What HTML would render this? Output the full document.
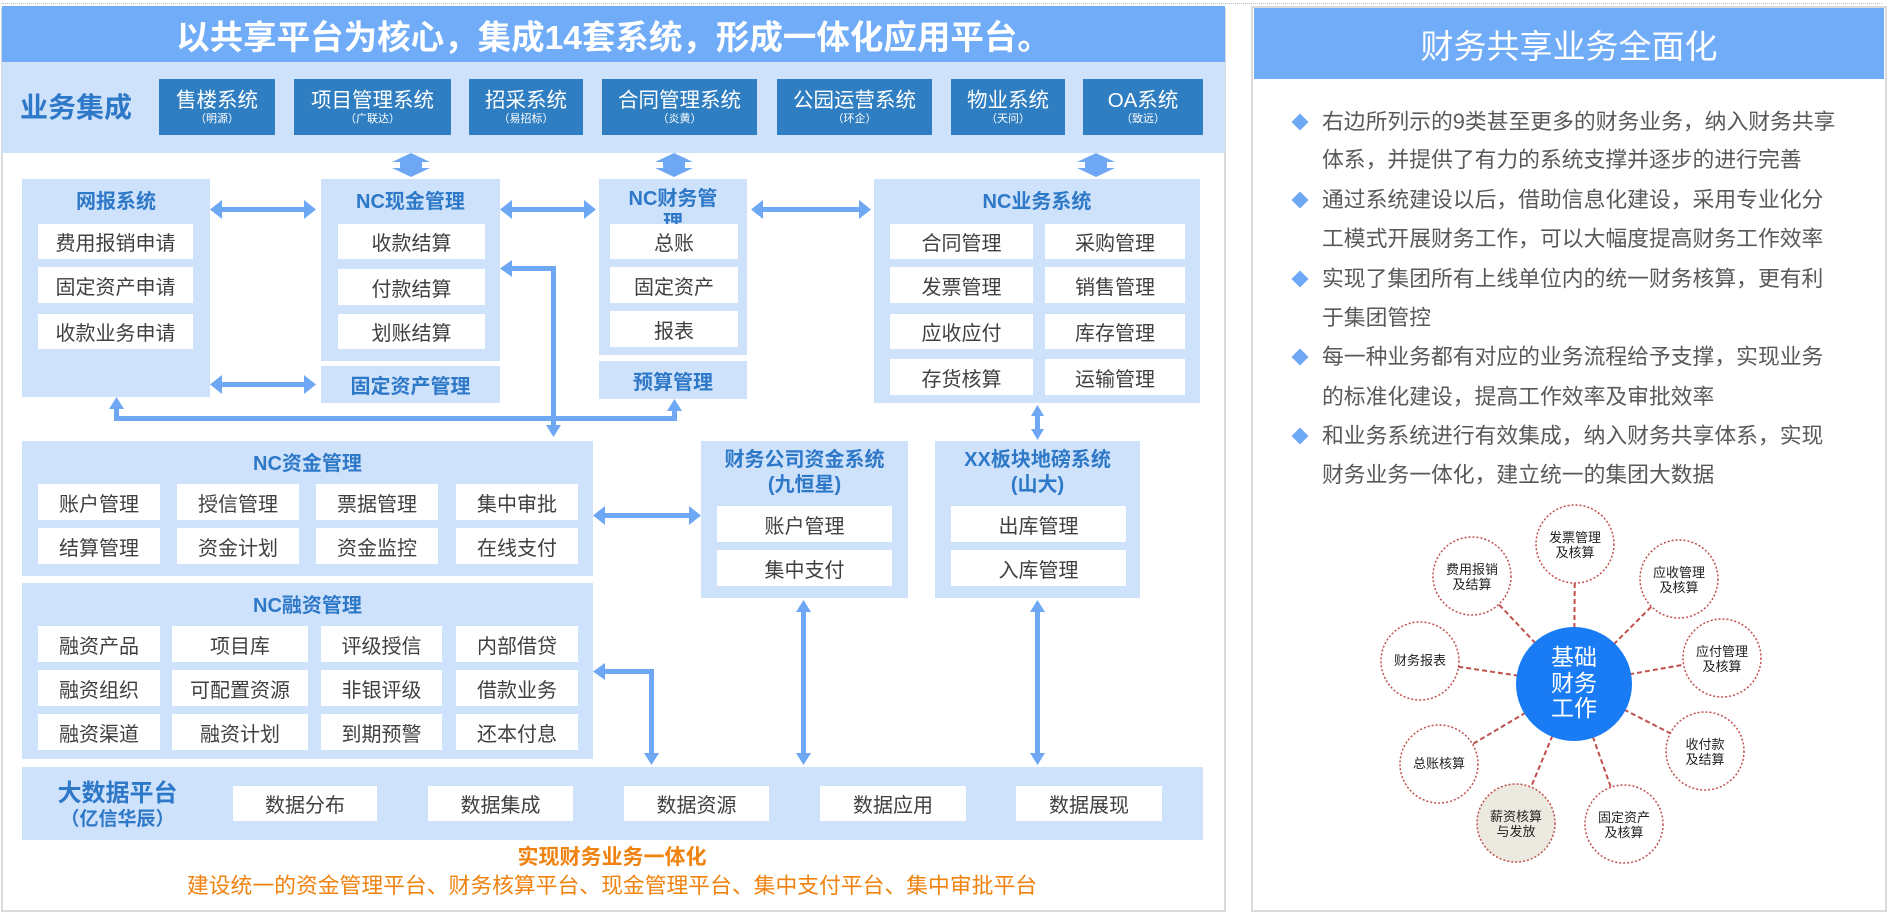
<!DOCTYPE html>
<html><head><meta charset="utf-8"><style>
*{margin:0;padding:0;box-sizing:border-box}
body{width:1888px;height:914px;background:#fff;position:relative;overflow:hidden;font-family:"Liberation Sans","Noto Sans CJK SC",sans-serif}
.a{position:absolute}
.c{position:absolute;display:flex;align-items:center;justify-content:center;text-align:center;white-space:nowrap}
.lb{background:#cfe2fb}
.it{background:#fff;color:#404040;font-size:20px}
.tt{color:#2e78c8;font-weight:bold;font-size:20px}
.sys{background:#2f7ec2;color:#fff;flex-direction:column;font-size:20.5px;line-height:23px}
.sys small{font-size:11px;line-height:14px}
.bl{position:absolute;left:1322px;color:#595959;font-size:21.8px;line-height:26px;white-space:nowrap}
.dm{position:absolute;left:1294px;width:12px;height:12px;background:#6ea8f5;transform:rotate(45deg)}
</style></head><body>
<div class="a" style="left:2px;top:3px;width:1880px;border-top:1px dotted #bbb"></div>
<div class="a" style="left:1px;top:8px;width:1225px;height:904px;border:2px solid #dadada"></div>
<div class="c" style="left:2px;top:6px;width:1223px;height:56px;background:#70acf8;color:#fff;font-size:33.5px;font-weight:bold">以共享平台为核心，集成14套系统，形成一体化应用平台。</div>
<div class="a lb" style="left:2px;top:62px;width:1223px;height:91px"></div>
<div class="c" style="left:14px;top:84px;width:124px;height:44px;color:#2e78c8;font-weight:bold;font-size:28px">业务集成</div>
<div class="c sys" style="left:159px;top:79px;width:116px;height:56px">售楼系统<small>（明源）</small></div>
<div class="c sys" style="left:294px;top:79px;width:157px;height:56px">项目管理系统<small>（广联达）</small></div>
<div class="c sys" style="left:469px;top:79px;width:114px;height:56px">招采系统<small>（易招标）</small></div>
<div class="c sys" style="left:602px;top:79px;width:155px;height:56px">合同管理系统<small>（炎黄）</small></div>
<div class="c sys" style="left:777px;top:79px;width:155px;height:56px">公园运营系统<small>（环企）</small></div>
<div class="c sys" style="left:951px;top:79px;width:114px;height:56px">物业系统<small>（天问）</small></div>
<div class="c sys" style="left:1083px;top:79px;width:120px;height:56px">OA系统<small>（致远）</small></div>

<div class="a lb" style="left:22px;top:179px;width:188px;height:218px"></div>
<div class="c tt" style="left:22px;top:186px;width:188px;height:26px">网报系统</div>
<div class="c it" style="left:38px;top:224px;width:155px;height:35px">费用报销申请</div>
<div class="c it" style="left:38px;top:267px;width:155px;height:36px">固定资产申请</div>
<div class="c it" style="left:38px;top:314px;width:155px;height:35px">收款业务申请</div>

<div class="a lb" style="left:321px;top:179px;width:179px;height:182px"></div>
<div class="c tt" style="left:321px;top:186px;width:179px;height:26px">NC现金管理</div>
<div class="c it" style="left:338px;top:224px;width:147px;height:35px">收款结算</div>
<div class="c it" style="left:338px;top:269px;width:147px;height:36px">付款结算</div>
<div class="c it" style="left:338px;top:314px;width:147px;height:35px">划账结算</div>
<div class="c tt lb" style="left:321px;top:366px;width:179px;height:37px;font-size:20px">固定资产管理</div>

<div class="a lb" style="left:599px;top:179px;width:148px;height:176px;overflow:hidden"><div class="tt" style="position:absolute;left:0;top:8px;width:148px;text-align:center;line-height:24px">NC财务管<br>理</div></div>
<div class="c it" style="left:610px;top:224px;width:128px;height:35px">总账</div>
<div class="c it" style="left:610px;top:267px;width:128px;height:36px">固定资产</div>
<div class="c it" style="left:610px;top:311px;width:128px;height:36px">报表</div>
<div class="c tt lb" style="left:599px;top:361px;width:148px;height:38px;font-size:20px">预算管理</div>

<div class="a lb" style="left:874px;top:179px;width:326px;height:224px"></div>
<div class="c tt" style="left:874px;top:186px;width:326px;height:26px">NC业务系统</div>
<div class="c it" style="left:890px;top:224px;width:143px;height:35px">合同管理</div>
<div class="c it" style="left:1045px;top:224px;width:140px;height:35px">采购管理</div>
<div class="c it" style="left:890px;top:267px;width:143px;height:36px">发票管理</div>
<div class="c it" style="left:1045px;top:267px;width:140px;height:36px">销售管理</div>
<div class="c it" style="left:890px;top:314px;width:143px;height:35px">应收应付</div>
<div class="c it" style="left:1045px;top:314px;width:140px;height:35px">库存管理</div>
<div class="c it" style="left:890px;top:359px;width:143px;height:36px">存货核算</div>
<div class="c it" style="left:1045px;top:359px;width:140px;height:36px">运输管理</div>

<div class="a lb" style="left:22px;top:441px;width:571px;height:135px"></div>
<div class="c tt" style="left:22px;top:448px;width:571px;height:26px">NC资金管理</div>
<div class="c it" style="left:38px;top:484px;width:122px;height:36px">账户管理</div>
<div class="c it" style="left:177px;top:484px;width:122px;height:36px">授信管理</div>
<div class="c it" style="left:316px;top:484px;width:122px;height:36px">票据管理</div>
<div class="c it" style="left:456px;top:484px;width:122px;height:36px">集中审批</div>
<div class="c it" style="left:38px;top:528px;width:122px;height:36px">结算管理</div>
<div class="c it" style="left:177px;top:528px;width:122px;height:36px">资金计划</div>
<div class="c it" style="left:316px;top:528px;width:122px;height:36px">资金监控</div>
<div class="c it" style="left:456px;top:528px;width:122px;height:36px">在线支付</div>

<div class="a lb" style="left:22px;top:583px;width:571px;height:176px"></div>
<div class="c tt" style="left:22px;top:590px;width:571px;height:26px">NC融资管理</div>
<div class="c it" style="left:38px;top:626px;width:122px;height:36px">融资产品</div>
<div class="c it" style="left:172px;top:626px;width:136px;height:36px">项目库</div>
<div class="c it" style="left:321px;top:626px;width:121px;height:36px">评级授信</div>
<div class="c it" style="left:456px;top:626px;width:122px;height:36px">内部借贷</div>
<div class="c it" style="left:38px;top:670px;width:122px;height:36px">融资组织</div>
<div class="c it" style="left:172px;top:670px;width:136px;height:36px">可配置资源</div>
<div class="c it" style="left:321px;top:670px;width:121px;height:36px">非银评级</div>
<div class="c it" style="left:456px;top:670px;width:122px;height:36px">借款业务</div>
<div class="c it" style="left:38px;top:714px;width:122px;height:36px">融资渠道</div>
<div class="c it" style="left:172px;top:714px;width:136px;height:36px">融资计划</div>
<div class="c it" style="left:321px;top:714px;width:121px;height:36px">到期预警</div>
<div class="c it" style="left:456px;top:714px;width:122px;height:36px">还本付息</div>

<div class="a lb" style="left:701px;top:441px;width:207px;height:157px"></div>
<div class="c tt" style="left:701px;top:447px;width:207px;height:52px;line-height:25px;font-size:20px">财务公司资金系统<br>(九恒星)</div>
<div class="c it" style="left:717px;top:506px;width:175px;height:36px">账户管理</div>
<div class="c it" style="left:717px;top:550px;width:175px;height:36px">集中支付</div>

<div class="a lb" style="left:935px;top:441px;width:205px;height:157px"></div>
<div class="c tt" style="left:935px;top:447px;width:205px;height:52px;line-height:25px;font-size:20px">XX板块地磅系统<br>(山大)</div>
<div class="c it" style="left:951px;top:506px;width:175px;height:36px">出库管理</div>
<div class="c it" style="left:951px;top:550px;width:175px;height:36px">入库管理</div>

<div class="a lb" style="left:22px;top:767px;width:1181px;height:73px"></div>
<div class="c" style="left:40px;top:776px;width:155px;height:28px;color:#2e78c8;font-weight:bold;font-size:24px">大数据平台</div>
<div class="c" style="left:40px;top:805px;width:155px;height:24px;color:#2e78c8;font-weight:bold;font-size:19px">（亿信华辰）</div>
<div class="c it" style="left:233px;top:786px;width:144px;height:35px">数据分布</div>
<div class="c it" style="left:428px;top:786px;width:145px;height:35px">数据集成</div>
<div class="c it" style="left:624px;top:786px;width:145px;height:35px">数据资源</div>
<div class="c it" style="left:820px;top:786px;width:146px;height:35px">数据应用</div>
<div class="c it" style="left:1016px;top:786px;width:146px;height:35px">数据展现</div>
<div class="c" style="left:300px;top:843px;width:624px;height:26px;color:#f0820f;font-weight:bold;font-size:21px">实现财务业务一体化</div>
<div class="c" style="left:150px;top:870px;width:924px;height:28px;color:#f0820f;font-size:21.8px">建设统一的资金管理平台、财务核算平台、现金管理平台、集中支付平台、集中审批平台</div>

<svg class="a" style="left:0;top:0" width="1888" height="914">
<g fill="#6ea8f5" stroke="none">
<polygon points="411,153 430,162 422,162 422,168 430,168 411,177 392,168 400,168 400,162 392,162"/>
<polygon points="674,153 693,162 685,162 685,168 693,168 674,177 655,168 663,168 663,162 655,162"/>
<polygon points="1096,153 1115,162 1107,162 1107,168 1115,168 1096,177 1077,168 1085,168 1085,162 1077,162"/>
<rect x="220" y="207" width="86" height="5"/><polygon points="210,209.5 222,200 222,219"/><polygon points="316,209.5 304,200 304,219"/>
<rect x="510" y="207" width="76" height="5"/><polygon points="500,209.5 512,200 512,219"/><polygon points="596,209.5 584,200 584,219"/>
<rect x="761" y="207" width="100" height="5"/><polygon points="751,209.5 763,200 763,219"/><polygon points="871,209.5 859,200 859,219"/>
<rect x="220" y="382" width="86" height="5"/><polygon points="210,384.5 222,375 222,394"/><polygon points="316,384.5 304,375 304,394"/>
<rect x="603" y="513" width="88" height="5"/><polygon points="593,515.5 605,506 605,525"/><polygon points="701,515.5 689,506 689,525"/>
<rect x="114" y="416" width="563" height="5"/>
<rect x="114" y="407" width="5" height="12"/><polygon points="116.5,397 109,409 124,409"/>
<rect x="672" y="409" width="5" height="10"/><polygon points="674.5,399 667,411 682,411"/>
<rect x="551" y="266" width="5" height="161"/><rect x="510" y="266" width="46" height="5"/>
<polygon points="500,268.5 512,260 512,277"/><polygon points="553.5,437 546,425 561,425"/>
<rect x="603" y="669" width="51" height="5"/><rect x="649" y="669" width="5" height="86"/>
<polygon points="593,671.5 605,663 605,680"/><polygon points="651.5,765 644,753 659,753"/>
<rect x="801" y="610" width="5" height="145"/><polygon points="803.5,600 796,612 811,612"/><polygon points="803.5,765 796,753 811,753"/>
<rect x="1035" y="610" width="5" height="145"/><polygon points="1037.5,600 1030,612 1045,612"/><polygon points="1037.5,765 1030,753 1045,753"/>
<rect x="1035" y="414" width="5" height="17"/><polygon points="1037.5,405 1031,416 1044,416"/><polygon points="1037.5,440 1031,429 1044,429"/>
</g>
</svg>

<div class="a" style="left:1251px;top:6px;width:636px;height:906px;border:2px solid #dadada"></div>
<div class="c" style="left:1254px;top:8px;width:630px;height:71px;background:#70acf8;color:#fff;font-size:33px">财务共享业务全面化</div>
<div class="dm" style="top:116px"></div><div class="dm" style="top:194px"></div><div class="dm" style="top:273px"></div><div class="dm" style="top:351px"></div><div class="dm" style="top:430px"></div>
<div class="bl" style="top:109px">右边所列示的9类甚至更多的财务业务，纳入财务共享</div>
<div class="bl" style="top:147px">体系，并提供了有力的系统支撑并逐步的进行完善</div>
<div class="bl" style="top:187px">通过系统建设以后，借助信息化建设，采用专业化分</div>
<div class="bl" style="top:226px">工模式开展财务工作，可以大幅度提高财务工作效率</div>
<div class="bl" style="top:266px">实现了集团所有上线单位内的统一财务核算，更有利</div>
<div class="bl" style="top:305px">于集团管控</div>
<div class="bl" style="top:344px">每一种业务都有对应的业务流程给予支撑，实现业务</div>
<div class="bl" style="top:384px">的标准化建设，提高工作效率及审批效率</div>
<div class="bl" style="top:423px">和业务系统进行有效集成，纳入财务共享体系，实现</div>
<div class="bl" style="top:462px">财务业务一体化，建立统一的集团大数据</div>

<svg class="a" style="left:0;top:0" width="1888" height="914" font-family="Liberation Sans, Noto Sans CJK SC, sans-serif">
<g stroke="#c0504d" stroke-width="2" stroke-dasharray="5,3" fill="none">
<line x1="1574" y1="684" x2="1575" y2="544"/><line x1="1574" y1="684" x2="1679" y2="579"/><line x1="1574" y1="684" x2="1722" y2="658"/>
<line x1="1574" y1="684" x2="1705" y2="751"/><line x1="1574" y1="684" x2="1624" y2="824"/><line x1="1574" y1="684" x2="1516" y2="823"/>
<line x1="1574" y1="684" x2="1439" y2="764"/><line x1="1574" y1="684" x2="1420" y2="661"/><line x1="1574" y1="684" x2="1472" y2="576"/>
</g>
<g stroke="#c0504d" stroke-width="1.5" stroke-dasharray="2,2" fill="#fff">
<circle cx="1575" cy="544" r="39"/><circle cx="1679" cy="579" r="39"/><circle cx="1722" cy="658" r="39"/>
<circle cx="1705" cy="751" r="39"/><circle cx="1624" cy="824" r="39"/><circle cx="1516" cy="823" r="39" fill="#ece9e0"/>
<circle cx="1439" cy="764" r="39"/><circle cx="1420" cy="661" r="39"/><circle cx="1472" cy="576" r="39"/>
</g>
<ellipse cx="1574" cy="684" rx="58" ry="57" fill="#1a7cf5"/>
<g fill="#fff" font-size="23" text-anchor="middle"><text x="1574" y="665">基础</text><text x="1574" y="691">财务</text><text x="1574" y="716">工作</text></g>
<g fill="#222" font-size="13" text-anchor="middle">
<text x="1575" y="542">发票管理</text><text x="1575" y="557">及核算</text>
<text x="1679" y="577">应收管理</text><text x="1679" y="592">及核算</text>
<text x="1722" y="656">应付管理</text><text x="1722" y="671">及核算</text>
<text x="1705" y="749">收付款</text><text x="1705" y="764">及结算</text>
<text x="1624" y="822">固定资产</text><text x="1624" y="837">及核算</text>
<text x="1516" y="821">薪资核算</text><text x="1516" y="836">与发放</text>
<text x="1439" y="768">总账核算</text>
<text x="1420" y="665">财务报表</text>
<text x="1472" y="574">费用报销</text><text x="1472" y="589">及结算</text>
</g>
</svg>
</body></html>
